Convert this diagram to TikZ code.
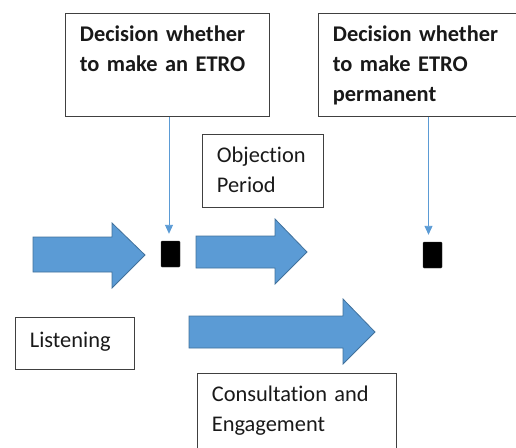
\documentclass[tikz,border=0pt]{standalone}
\usepackage{fontspec}
\setmainfont{Carlito}[Ligatures=NoCommon]
\usetikzlibrary{arrows.meta}
\definecolor{arrowblue}{RGB}{91,155,213}
\definecolor{arrowedge}{RGB}{65,113,156}
\newcommand{\topstrut}{\rule{0pt}{21pt}}
\newcommand{\botstrut}{\rule[-8pt]{0pt}{8pt}}
\newcommand{\listtop}{\rule{0pt}{23pt}}
\newcommand{\listbot}{\rule[-15pt]{0pt}{15pt}}
\newcommand{\consbot}{\rule[-16pt]{0pt}{16pt}}
\tikzset{
  textbox/.style={draw=black!75, line width=0.8pt, anchor=north west, align=left,
    inner xsep=14.5pt, inner ysep=7pt, text=black!90,
    font=\fontsize{22.4}{30}\selectfont,
    execute at begin node=\topstrut, execute at end node=\botstrut},
  decision/.style={textbox, font=\fontsize{22.4}{30}\selectfont\bfseries},
  marker/.style={fill=black, draw=black!80, minimum width=19pt, minimum height=26pt,
    inner sep=0pt, rounded corners=1pt},
  feed/.style={draw=arrowblue, line width=0.9pt, shorten >=7pt,
    -{Triangle[width=8pt,length=9pt]}},
  blockarrow/.style={fill=arrowblue, draw=arrowedge, line width=0.8pt, line join=miter}
}
\begin{document}
\begin{tikzpicture}[x=1pt,y=1pt,yscale=-1]
    \useasboundingbox (0,0) rectangle (516,447);
    \clip (0,0) rectangle (516,447);

    % Decision boxes
    \node[decision, minimum width=204pt, text width=175pt] (dec1) at (65,13) {Decision whether\\to make an ETRO\\};
    \node[decision, minimum width=205pt, text width=176pt] (dec2) at (318,13) {Decision whether\\to make ETRO\\permanent};

    % Period boxes
    \node[textbox, minimum width=121pt, text width=92pt] (objection) at (202,134) {Objection\\Period};
    \node[textbox, minimum width=119pt, text width=90pt,
      execute at begin node=\listtop, execute at end node=\listbot] (listening) at (15,317) {Listening};
    \node[textbox, minimum width=199pt, text width=170pt,
      execute at end node=\consbot] (consult) at (197,373) {Consultation and\\Engagement};

    % Markers
    \node[marker] (sq1) at (170.5,254) {};
    \node[marker] (sq2) at (432.5,255) {};

    % Shape: Right Arrow
    \draw[blockarrow] (33,237) -- (112,237) -- (112,223) -- (145,255) -- (112,288) -- (112,272) -- (33,272) -- cycle;
    % Shape: Right Arrow
    \draw[blockarrow] (196,236) -- (275,236) -- (275,219) -- (307,252) -- (275,284) -- (275,268) -- (196,268) -- cycle;
    % Shape: Right Arrow
    \draw[blockarrow] (189,316) -- (343,316) -- (343,299) -- (375,332) -- (343,364) -- (343,348) -- (189,348) -- cycle;

    % Straight Lines
    \draw[feed] ([xshift=-1.5pt]dec1.south -| sq1.north) -- ([xshift=-1.5pt]sq1.north);
    \draw[feed] ([xshift=-4pt]dec2.south -| sq2.north) -- ([xshift=-4pt]sq2.north);
\end{tikzpicture}
\end{document}
